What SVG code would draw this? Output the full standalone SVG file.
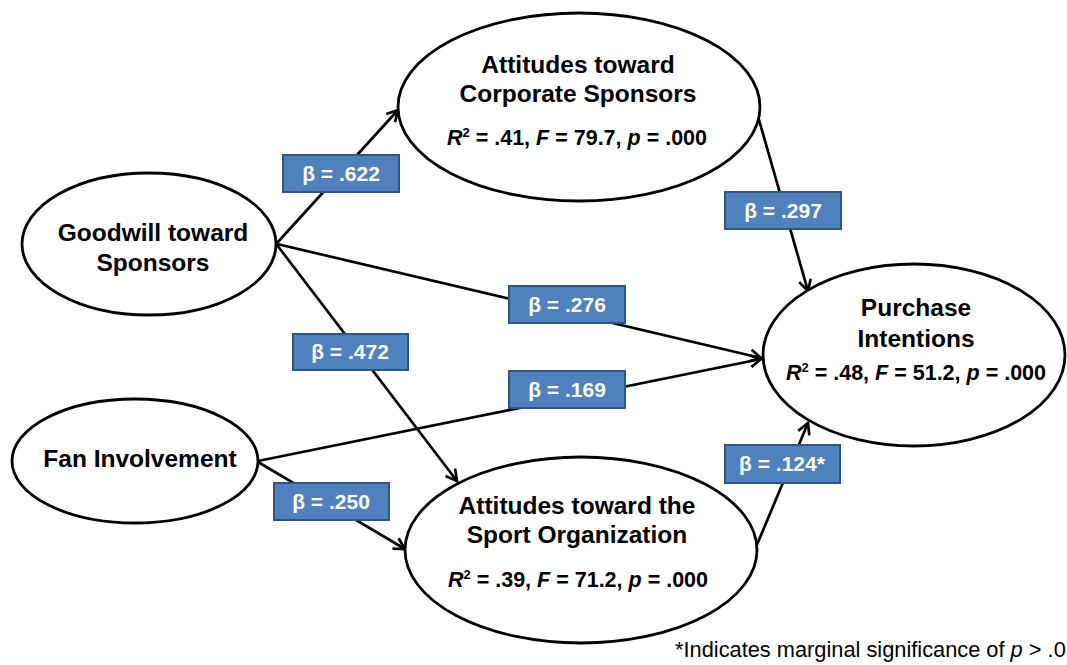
<svg xmlns="http://www.w3.org/2000/svg" width="1067" height="665" viewBox="0 0 1067 665">
<defs>
<style>
.node ellipse{fill:#fff;stroke:#000;stroke-width:2.8}
.nt{font-family:"Liberation Sans",Arial,sans-serif;font-weight:bold;font-size:24.5px;fill:#000;text-anchor:middle}
.st{font-family:"Liberation Sans",Arial,sans-serif;font-weight:bold;font-size:21.5px;fill:#000;text-anchor:middle}
.sup{font-size:13px}
.conn line{stroke:#000;stroke-width:2.7;fill:none;marker-end:url(#arr)}
.lab rect{fill:#4F81BD;stroke:#2F5586;stroke-width:2}
.lab text{font-family:"Liberation Sans",Arial,sans-serif;font-weight:bold;font-size:21px;fill:#fff;text-anchor:middle}
.foot{font-family:"Liberation Sans",Arial,sans-serif;font-size:21.8px;fill:#000}
</style>
<marker id="arr" markerUnits="userSpaceOnUse" markerWidth="20" markerHeight="20" refX="14" refY="8" orient="auto">
<path d="M3,2 L14,8 L3,14" fill="none" stroke="#000" stroke-width="2.7" stroke-linejoin="miter"/>
</marker>
</defs>
<rect width="1067" height="665" fill="#fff"/>
<g id="connectors" class="conn">
<line x1="277" y1="243" x2="398" y2="110"/>
<line x1="277" y1="244" x2="761" y2="358"/>
<line x1="277" y1="245" x2="457" y2="481"/>
<line x1="258" y1="461" x2="761" y2="359"/>
<line x1="258" y1="462" x2="405" y2="549"/>
<line x1="755" y1="106" x2="808" y2="291"/>
<line x1="756" y1="547" x2="808" y2="423"/>
</g>
<g id="n_corporate" class="node">
<ellipse cx="579" cy="107" rx="181" ry="94"/>
<text class="nt" x="578" y="73">Attitudes toward</text>
<text class="nt" x="578" y="102">Corporate Sponsors</text>
<text class="st" x="577" y="145"><tspan font-style="italic">R</tspan><tspan class="sup" dy="-8">2</tspan><tspan dy="8"> = .41, </tspan><tspan font-style="italic">F</tspan> = 79.7, <tspan font-style="italic">p</tspan> = .000</text>
</g>
<g id="n_goodwill" class="node">
<ellipse cx="149" cy="244" rx="127" ry="71"/>
<text class="nt" x="153" y="241">Goodwill toward</text>
<text class="nt" x="153" y="271">Sponsors</text>
</g>
<g id="n_fan" class="node">
<ellipse cx="135" cy="461" rx="123" ry="62"/>
<text class="nt" x="140" y="467">Fan Involvement</text>
</g>
<g id="n_sport" class="node">
<ellipse cx="581" cy="550" rx="176" ry="93"/>
<text class="nt" x="577" y="514">Attitudes toward the</text>
<text class="nt" x="577" y="543">Sport Organization</text>
<text class="st" x="578" y="587"><tspan font-style="italic">R</tspan><tspan class="sup" dy="-8">2</tspan><tspan dy="8"> = .39, </tspan><tspan font-style="italic">F</tspan> = 71.2, <tspan font-style="italic">p</tspan> = .000</text>
</g>
<g id="n_purchase" class="node">
<ellipse cx="914" cy="355" rx="151" ry="91"/>
<text class="nt" x="916" y="316">Purchase</text>
<text class="nt" x="916" y="347">Intentions</text>
<text class="st" x="916" y="380"><tspan font-style="italic">R</tspan><tspan class="sup" dy="-8">2</tspan><tspan dy="8"> = .48, </tspan><tspan font-style="italic">F</tspan> = 51.2, <tspan font-style="italic">p</tspan> = .000</text>
</g>
<g id="labels" class="lab">
<g id="l622"><rect x="283" y="155" width="116" height="37"/><text x="341" y="181">β = .622</text></g>
<g id="l472"><rect x="293" y="334" width="115" height="36"/><text x="350" y="359">β = .472</text></g>
<g id="l276"><rect x="509" y="286" width="116" height="37"/><text x="567" y="312">β = .276</text></g>
<g id="l169"><rect x="509" y="371" width="116" height="37"/><text x="567" y="397">β = .169</text></g>
<g id="l250"><rect x="274" y="483" width="115" height="37"/><text x="331" y="509">β = .250</text></g>
<g id="l297"><rect x="725" y="192" width="116" height="37"/><text x="783" y="218">β = .297</text></g>
<g id="l124"><rect x="725" y="445" width="115" height="38"/><text x="782" y="471">β = .124*</text></g>
</g>
<text class="foot" x="675" y="657">*Indicates marginal significance of <tspan font-style="italic">p</tspan> &gt; .0</text>
</svg>
